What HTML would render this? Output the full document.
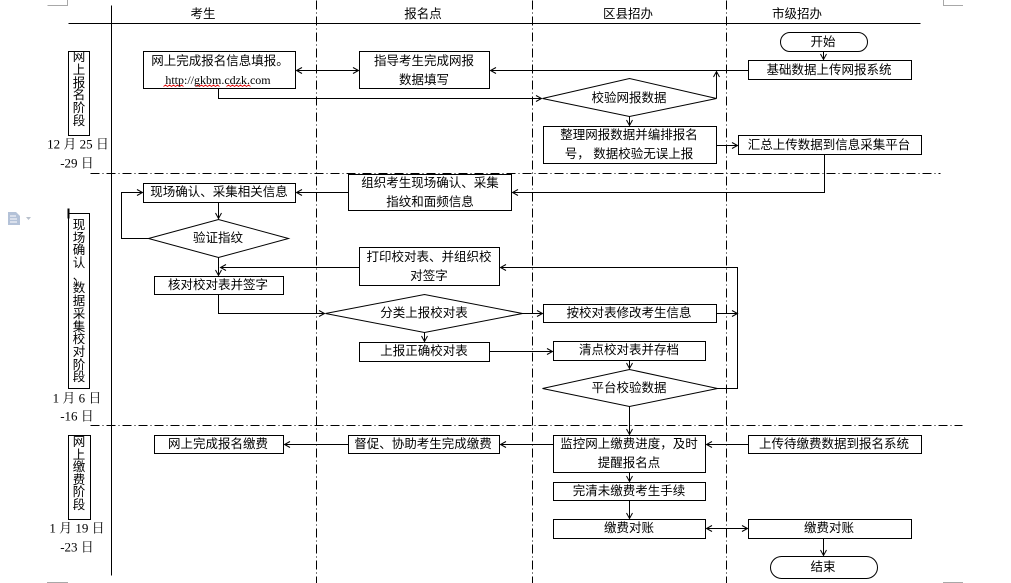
<!DOCTYPE html>
<html><head><meta charset="utf-8"><style>
html,body{margin:0;padding:0;background:#fff;}
svg{display:block;}
text{font-family:"Liberation Sans","Noto Sans CJK SC",sans-serif;font-size:12.5px;fill:#000;}
.d{font-family:"Liberation Serif","Noto Serif CJK SC",serif;font-size:13px;}
</style></head><body>
<svg width="1011" height="583" viewBox="0 0 1011 583" xmlns="http://www.w3.org/2000/svg">
<defs>
<marker id="a" markerUnits="userSpaceOnUse" markerWidth="8" markerHeight="8" refX="6" refY="3.5" orient="auto-start-reverse">
<path d="M0.5,0.5 L6,3.5 L0.5,6.5" fill="none" stroke="#000" stroke-width="1"/>
</marker>
</defs>
<!-- page corner marks -->
<g stroke="#a8a8a8" stroke-width="1" fill="none">
<path d="M47.5,5.5 H67.5 V0"/>
<path d="M943.5,0 V5.5 H963"/>
<path d="M47,582.5 H68"/>
<path d="M943,582.5 H963"/>
</g>
<!-- doc icon -->
<g>
<path d="M8,212 h8 l4,4 v9 h-12z" fill="#b4c2d8"/>
<path d="M10,216 h6 M10,219 h7 M10,222 h7" stroke="#fff" stroke-width="1"/>
<path d="M26,217 h5 l-2.5,3z" fill="#b8c0cc"/>
</g>
<g transform="translate(0.5,0.5)" stroke="#000" stroke-width="1" fill="none">
<!-- frame lines -->
<line x1="68" y1="23" x2="920" y2="23"/>
<line x1="111" y1="5" x2="111" y2="575"/>
<g stroke-dasharray="9,3,1,3">
<line x1="316" y1="0" x2="316" y2="583"/>
<line x1="532" y1="0" x2="532" y2="583"/>
<line x1="726" y1="0" x2="726" y2="583"/>
<line x1="90" y1="173" x2="940" y2="173"/>
<line x1="90" y1="425" x2="962" y2="425"/>
</g>
<!-- stage boxes -->
<rect x="68" y="51" width="21" height="84"/>
<rect x="68" y="213" width="21" height="175"/>
<rect x="68" y="435" width="22" height="84"/>
<line x1="68" y1="208" x2="68" y2="218" stroke-width="2"/>
<!-- boxes -->
<rect x="143" y="51" width="152" height="37" fill="#fff"/>
<rect x="359" y="51" width="130" height="37" fill="#fff"/>
<rect x="748" y="60" width="163" height="19" fill="#fff"/>
<rect x="780" y="32" width="87" height="19" rx="9.5" fill="#fff"/>
<rect x="543" y="126" width="173" height="37" fill="#fff"/>
<rect x="738" y="135" width="183" height="19" fill="#fff"/>
<rect x="143" y="183" width="152" height="19" fill="#fff"/>
<rect x="348" y="174" width="163" height="36" fill="#fff"/>
<rect x="359" y="247" width="140" height="38" fill="#fff"/>
<rect x="154" y="276" width="129" height="18" fill="#fff"/>
<rect x="543" y="304" width="173" height="18" fill="#fff"/>
<rect x="359" y="342" width="130" height="19" fill="#fff"/>
<rect x="553" y="341" width="152" height="19" fill="#fff"/>
<rect x="154" y="435" width="129" height="18" fill="#fff"/>
<rect x="348" y="435" width="151" height="18" fill="#fff"/>
<rect x="553" y="435" width="152" height="37" fill="#fff"/>
<rect x="748" y="435" width="173" height="18" fill="#fff"/>
<rect x="553" y="482" width="152" height="18" fill="#fff"/>
<rect x="553" y="519" width="152" height="19" fill="#fff"/>
<rect x="748" y="519" width="163" height="19" fill="#fff"/>
<rect x="770" y="556" width="107" height="22" rx="11" fill="#fff"/>
<!-- diamonds -->
<polygon points="542,98 629,78 716,98 629,116" fill="#fff"/>
<polygon points="148,238 218,219 288,238 218,257" fill="#fff"/>
<polygon points="325,313 424,294 522,313 424,332" fill="#fff"/>
<polygon points="542,388 629,369 717,388 629,406" fill="#fff"/>
<!-- connectors -->
<g marker-end="url(#a)">
<line x1="296" y1="70" x2="358" y2="70" marker-start="url(#a)"/>
<polyline points="218,88 218,98 541,98"/>
<line x1="748" y1="70" x2="490" y2="70"/>
<line x1="716" y1="98" x2="716" y2="71"/>
<line x1="629" y1="116" x2="629" y2="125"/>
<line x1="716" y1="145" x2="737" y2="145"/>
<line x1="823" y1="51" x2="823" y2="59"/>
<polyline points="824,154 824,192 512,192"/>
<line x1="348" y1="192" x2="296" y2="192"/>
<line x1="218" y1="202" x2="218" y2="218"/>
<polyline points="148,238 121,238 121,192 142,192"/>
<line x1="218" y1="257" x2="218" y2="275"/>
<line x1="359" y1="267" x2="220" y2="267"/>
<polyline points="218,294 218,313 324,313"/>
<line x1="522" y1="313" x2="542" y2="313"/>
<line x1="424" y1="332" x2="424" y2="341"/>
<line x1="489" y1="351" x2="552" y2="351"/>
<line x1="629" y1="360" x2="629" y2="368"/>
<line x1="716" y1="313" x2="737" y2="313"/>
<polyline points="717,388 737,388 737,267 500,267"/>
<line x1="629" y1="406" x2="629" y2="434"/>
<line x1="553" y1="444" x2="500" y2="444"/>
<line x1="348" y1="444" x2="284" y2="444"/>
<line x1="748" y1="444" x2="706" y2="444"/>
<line x1="629" y1="472" x2="629" y2="481"/>
<line x1="629" y1="500" x2="629" y2="518"/>
<line x1="706" y1="528" x2="747" y2="528" marker-start="url(#a)"/>
<line x1="823" y1="538" x2="823" y2="555"/>
</g>
<!-- spell-check squiggles -->
<g stroke="#e00000" stroke-width="0.8">
<polyline points="163,86 165,84.5 167,86 169,84.5 171,86 173,84.5 175,86 177,84.5 179,86 181,84.5 183,86"/>
<polyline points="195,86 197,84.5 199,86 201,84.5 203,86 205,84.5 207,86 209,84.5 211,86 213,84.5 215,86 217,84.5 219,86"/>
<polyline points="226,86 228,84.5 230,86 232,84.5 234,86 236,84.5 238,86 240,84.5 242,86 244,84.5 246,86 248,84.5 250,86"/>
</g>
</g>
<!-- text -->
<g text-anchor="middle" dominant-baseline="central">
<text x="203" y="14">考生</text>
<text x="423" y="14">报名点</text>
<text x="628" y="14">区县招办</text>
<text x="797" y="14">市级招办</text>

<text x="220" y="61">网上完成报名信息填报。</text>
<text x="218" y="80" class="d" style="font-size:12px">http://gkbm.cdzk.com</text>
<text x="424" y="61">指导考生完成网报</text>
<text x="424" y="80">数据填写</text>
<text x="823" y="42">开始</text>
<text x="829" y="70">基础数据上传网报系统</text>
<text x="629" y="98">校验网报数据</text>
<text x="629" y="135">整理网报数据并编排报名</text>
<text x="629" y="154">号，&#160;数据校验无误上报</text>
<text x="829" y="145">汇总上传数据到信息采集平台</text>

<text x="219" y="192">现场确认、采集相关信息</text>
<text x="430" y="183">组织考生现场确认、采集</text>
<text x="430" y="202">指纹和面频信息</text>
<text x="218" y="238">验证指纹</text>
<text x="429" y="257">打印校对表、并组织校</text>
<text x="429" y="276">对签字</text>
<text x="218" y="285">核对校对表并签字</text>
<text x="424" y="313">分类上报校对表</text>
<text x="629" y="313">按校对表修改考生信息</text>
<text x="424" y="351">上报正确校对表</text>
<text x="629" y="350">清点校对表并存档</text>
<text x="629" y="388">平台校验数据</text>

<text x="218" y="444">网上完成报名缴费</text>
<text x="423" y="444">督促、协助考生完成缴费</text>
<text x="629" y="444">监控网上缴费进度，及时</text>
<text x="629" y="463">提醒报名点</text>
<text x="834" y="444">上传待缴费数据到报名系统</text>
<text x="629" y="491">完清未缴费考生手续</text>
<text x="629" y="528">缴费对账</text>
<text x="829" y="528">缴费对账</text>
<text x="823" y="567">结束</text>

<g>
<text x="79" y="57">网</text><text x="79" y="70">上</text><text x="79" y="83">报</text><text x="79" y="95">名</text><text x="79" y="108">阶</text><text x="79" y="121">段</text>
</g>
<g>
<text x="79" y="225">现</text><text x="79" y="238">场</text><text x="79" y="250">确</text><text x="79" y="263">认</text><text x="79" y="276">、</text><text x="79" y="288">数</text><text x="79" y="301">据</text><text x="79" y="314">采</text><text x="79" y="327">集</text><text x="79" y="339">校</text><text x="79" y="352">对</text><text x="79" y="365">阶</text><text x="79" y="377">段</text>
</g>
<g>
<text x="79" y="442">网</text><text x="79" y="455">上</text><text x="79" y="467">缴</text><text x="79" y="480">费</text><text x="79" y="492">阶</text><text x="79" y="505">段</text>
</g>
<text x="78" y="144" class="d">12 月 25 日</text>
<text x="77" y="163" class="d">-29 日</text>
<text x="77" y="398" class="d">1 月 6 日</text>
<text x="77" y="416" class="d">-16 日</text>
<text x="77" y="528" class="d">1 月 19 日</text>
<text x="77" y="547" class="d">-23 日</text>
</g>
</svg>
</body></html>
